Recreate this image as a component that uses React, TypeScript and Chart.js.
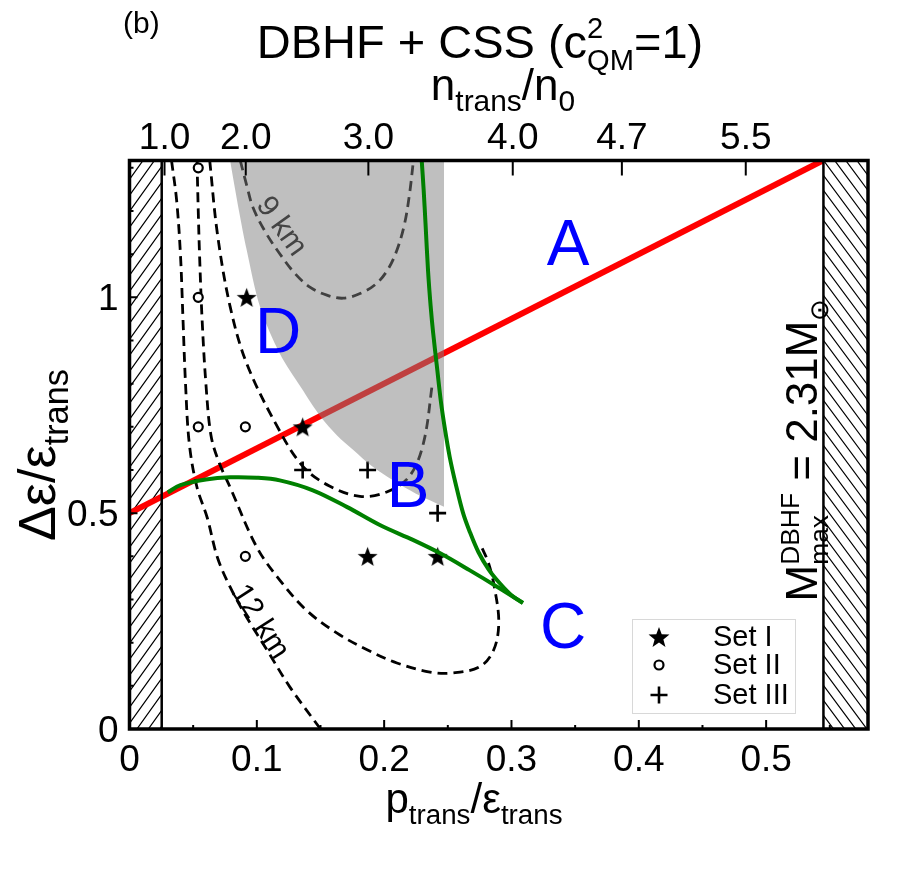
import { useEffect, useRef } from "react";
import { Chart, registerables } from "chart.js";

Chart.register(...registerables);

const FONT = '"Liberation Sans", Arial, Helvetica, sans-serif';

// ---- axes ----
const xMin = 0;
const xMax = 0.58;
const yMin = 0;
const yMax = 1.317;
const xMajorTicks = [0, 0.1, 0.2, 0.3, 0.4, 0.5];
const xMajorLabels = ["0", "0.1", "0.2", "0.3", "0.4", "0.5"];
const xMinorTicks = [0.05, 0.15, 0.25, 0.35, 0.45, 0.55];
const yMajorTicks = [0, 0.5, 1];
const yMajorLabels = ["0", "0.5", "1"];
const yMinorTicks = [0.1, 0.2, 0.3, 0.4, 0.6, 0.7, 0.8, 0.9, 1.1, 1.2, 1.3];
const topTickValues = [0.0275, 0.0913, 0.1876, 0.301, 0.3867, 0.484];
const topTickLabels = ["1.0", "2.0", "3.0", "4.0", "4.7", "5.5"];
const leftExcluded = [0, 0.0253];
const rightExcluded = [0.545, 0.58];

// ---- red line (Seidov criterion) ----
const redP = [0, 0.5445];
const redV = [0.5, 1.317];

// ---- green stability boundaries ----
const greenLowP = [0.03, 0.04, 0.06, 0.079, 0.1, 0.118, 0.144, 0.171, 0.197, 0.223, 0.244, 0.267, 0.289, 0.309];
const greenLowV = [0.548, 0.565, 0.578, 0.583, 0.582, 0.576, 0.553, 0.514, 0.472, 0.4375, 0.407, 0.368, 0.329, 0.292];
const greenUpP = [0.2295, 0.231, 0.2325, 0.2345, 0.2365, 0.2385, 0.2415, 0.2445, 0.248, 0.2515, 0.256, 0.262, 0.2675, 0.274, 0.282, 0.291, 0.3, 0.309];
const greenUpV = [1.317, 1.25, 1.17, 1.06, 0.98, 0.917, 0.838, 0.76, 0.69, 0.63, 0.57, 0.5, 0.455, 0.41, 0.37, 0.337, 0.31, 0.292];

// ---- grey region lower boundary ----
const greyP = [0.079, 0.086, 0.092, 0.1025, 0.118, 0.135, 0.15, 0.163, 0.176, 0.19, 0.207, 0.225, 0.247];
const greyV = [1.317, 1.2, 1.11, 0.978, 0.87, 0.79, 0.724, 0.68, 0.646, 0.61, 0.576, 0.545, 0.515];

// ---- radius contours (dashed) ----
const r9P = [0.087, 0.092, 0.097, 0.107, 0.118, 0.13, 0.142, 0.155, 0.168, 0.182, 0.194, 0.203, 0.21, 0.216, 0.22, 0.223];
const r9V = [1.317, 1.26, 1.208, 1.15, 1.101, 1.055, 1.023, 1.005, 0.998, 1.01, 1.032, 1.065, 1.109, 1.17, 1.241, 1.317];
const r10P = [0.063, 0.069, 0.079, 0.092, 0.116, 0.136, 0.157, 0.181, 0.202, 0.22, 0.231, 0.238];
const r10V = [1.317, 1.148, 0.979, 0.847, 0.701, 0.609, 0.563, 0.539, 0.549, 0.586, 0.664, 0.803];
const r11P = [0.053, 0.054, 0.055, 0.057, 0.06, 0.064, 0.07, 0.079, 0.1, 0.118, 0.139, 0.163, 0.187, 0.21, 0.236, 0.254, 0.275, 0.286, 0.29, 0.287, 0.282, 0.276];
const r11V = [1.317, 1.2, 1.1, 0.95, 0.8, 0.68, 0.62, 0.56, 0.421, 0.345, 0.275, 0.222, 0.183, 0.153, 0.132, 0.13, 0.144, 0.183, 0.245, 0.322, 0.384, 0.425];
const r12P = [0.033, 0.037, 0.04, 0.042, 0.044, 0.047, 0.053, 0.061, 0.069, 0.079, 0.092, 0.108, 0.126, 0.15];
const r12V = [1.317, 1.225, 1.1, 0.95, 0.8, 0.66, 0.56, 0.49, 0.398, 0.329, 0.259, 0.183, 0.097, 0.0];

// ---- parameter sets ----
const set1P = [0.092, 0.136, 0.187, 0.242];
const set1V = [1.0, 0.7, 0.4, 0.4];
const set2P = [0.054, 0.054, 0.054, 0.091, 0.091];
const set2V = [1.3, 1.0, 0.7, 0.7, 0.4];
const set3P = [0.136, 0.187, 0.242];
const set3V = [0.6, 0.6, 0.5];
const legendNames = ["Set I", "Set II", "Set III"];

// ---- region labels (data-space anchors: centre x, baseline y) ----
const regionNames = ["A", "B", "C", "D"];
const regionP = [0.3445, 0.2188, 0.3405, 0.1167];
const regionV = [1.074, 0.514, 0.1875, 0.87];

const zip = (p: number[], v: number[]) => p.map((x, i) => ({ x, y: v[i] }));

type Seg = { t?: string; sub?: string; sup?: string };

function segW(ctx: CanvasRenderingContext2D, s: Seg, size: number, k: number) {
  if (s.t !== undefined) {
    ctx.font = `${size}px ${FONT}`;
    return ctx.measureText(s.t).width;
  }
  ctx.font = `${size * k}px ${FONT}`;
  return Math.max(s.sub ? ctx.measureText(s.sub).width : 0, s.sup ? ctx.measureText(s.sup).width : 0);
}

function drawRich(
  ctx: CanvasRenderingContext2D,
  segs: Seg[],
  x: number,
  y: number,
  size: number,
  align: "left" | "center" | "right",
  color: string,
  k = 0.62
) {
  const widths = segs.map((s) => segW(ctx, s, size, k));
  const total = widths.reduce((a, b) => a + b, 0);
  let cx = align === "center" ? x - total / 2 : align === "right" ? x - total : x;
  ctx.fillStyle = color;
  ctx.textAlign = "left";
  ctx.textBaseline = "alphabetic";
  segs.forEach((s, i) => {
    if (s.t !== undefined) {
      ctx.font = `${size}px ${FONT}`;
      ctx.fillText(s.t, cx, y);
    } else {
      ctx.font = `${size * k}px ${FONT}`;
      if (s.sup) ctx.fillText(s.sup, cx, y - size * 0.42);
      if (s.sub) ctx.fillText(s.sub, cx, y + size * 0.25);
    }
    cx += widths[i];
  });
}

function starPath(ctx: CanvasRenderingContext2D, cx: number, cy: number, R: number, r: number) {
  ctx.beginPath();
  for (let i = 0; i < 10; i++) {
    const a = -Math.PI / 2 + (i * Math.PI) / 5;
    const rad = i % 2 === 0 ? R : r;
    const px = cx + rad * Math.cos(a);
    const py = cy + rad * Math.sin(a);
    if (i === 0) ctx.moveTo(px, py);
    else ctx.lineTo(px, py);
  }
  ctx.closePath();
}

function makeStar(R: number) {
  const c = document.createElement("canvas");
  const s = Math.ceil(2 * R + 2);
  c.width = s;
  c.height = s;
  const g = c.getContext("2d")!;
  g.fillStyle = "#000";
  starPath(g, s / 2, s / 2 + 1, R, R * 0.42);
  g.fill();
  return c;
}

function hatch(
  ctx: CanvasRenderingContext2D,
  x0: number,
  x1: number,
  y0: number,
  y1: number,
  dir: 1 | -1,
  spacing: number,
  slope: number
) {
  ctx.save();
  ctx.beginPath();
  ctx.rect(x0, y0, x1 - x0, y1 - y0);
  ctx.clip();
  ctx.strokeStyle = "#000";
  ctx.lineWidth = 1.2;
  const w = x1 - x0;
  ctx.beginPath();
  for (let c = y0 - slope * w - spacing; c < y1 + slope * w + spacing; c += spacing) {
    ctx.moveTo(x0, c);
    ctx.lineTo(x1, c - dir * slope * w);
  }
  ctx.stroke();
  ctx.restore();
}

const decor = {
  id: "decor",
  beforeDatasetsDraw(chart: any) {
    const { ctx, chartArea: a, scales } = chart;
    const xs = scales.x;
    const xl = xs.getPixelForValue(leftExcluded[1]);
    const xr = xs.getPixelForValue(rightExcluded[0]);
    hatch(ctx, a.left, xl, a.top, a.bottom, 1, 16, 1.4);
    hatch(ctx, xr, a.right, a.top, a.bottom, -1, 15, 1.35);
  },
  afterDatasetsDraw(chart: any) {
    const { ctx, chartArea: a, scales } = chart;
    const xs = scales.x;
    const ys = scales.y;
    ctx.save();
    // region labels
    ctx.fillStyle = "#0000ff";
    ctx.font = `64px ${FONT}`;
    ctx.textAlign = "center";
    ctx.textBaseline = "alphabetic";
    regionNames.forEach((n, i) => {
      ctx.fillText(n, xs.getPixelForValue(regionP[i]), ys.getPixelForValue(regionV[i]));
    });
    // contour labels
    ctx.font = `30px ${FONT}`;
    ctx.textBaseline = "middle";
    ctx.save();
    ctx.translate(xs.getPixelForValue(0.119), ys.getPixelForValue(1.164));
    ctx.rotate(0.95);
    ctx.fillStyle = "#444";
    ctx.fillText("9 km", 0, 0);
    ctx.restore();
    ctx.save();
    ctx.translate(xs.getPixelForValue(0.1025), ys.getPixelForValue(0.248));
    ctx.rotate(1.0);
    ctx.fillStyle = "#000";
    ctx.fillText("12 km", 0, 0);
    ctx.restore();

    // hatch boundary lines
    ctx.strokeStyle = "#000";
    ctx.lineWidth = 2.5;
    ctx.beginPath();
    const xl = xs.getPixelForValue(leftExcluded[1]);
    const xr = xs.getPixelForValue(rightExcluded[0]);
    ctx.moveTo(xl, a.top);
    ctx.lineTo(xl, a.bottom);
    ctx.moveTo(xr, a.top);
    ctx.lineTo(xr, a.bottom);
    ctx.stroke();

    // ticks
    ctx.lineWidth = 2;
    ctx.beginPath();
    xMajorTicks.forEach((v) => {
      const px = xs.getPixelForValue(v);
      ctx.moveTo(px, a.bottom);
      ctx.lineTo(px, a.bottom - 9);
    });
    xMinorTicks.forEach((v) => {
      const px = xs.getPixelForValue(v);
      ctx.moveTo(px, a.bottom);
      ctx.lineTo(px, a.bottom - 4);
    });
    yMajorTicks.forEach((v) => {
      const py = ys.getPixelForValue(v);
      ctx.moveTo(a.left, py);
      ctx.lineTo(a.left + 8, py);
    });
    yMinorTicks.forEach((v) => {
      const py = ys.getPixelForValue(v);
      ctx.moveTo(a.left, py);
      ctx.lineTo(a.left + 4, py);
    });
    topTickValues.forEach((v) => {
      const px = xs.getPixelForValue(v);
      ctx.moveTo(px, a.top);
      ctx.lineTo(px, a.top + 15);
    });
    ctx.stroke();

    // frame
    ctx.lineWidth = 3.5;
    ctx.strokeRect(a.left, a.top, a.right - a.left, a.bottom - a.top);

    // tick labels
    ctx.fillStyle = "#000";
    ctx.font = `37px ${FONT}`;
    ctx.textBaseline = "alphabetic";
    ctx.textAlign = "center";
    xMajorTicks.forEach((v, i) => {
      ctx.fillText(xMajorLabels[i], xs.getPixelForValue(v), a.bottom + 42);
    });
    topTickValues.forEach((v, i) => {
      ctx.fillText(topTickLabels[i], xs.getPixelForValue(v), a.top - 12);
    });
    ctx.textAlign = "right";
    yMajorTicks.forEach((v, i) => {
      ctx.fillText(yMajorLabels[i], a.left - 11, ys.getPixelForValue(v) + 13);
    });

    // titles
    ctx.textAlign = "left";
    ctx.font = `30px ${FONT}`;
    ctx.fillText("(b)", 123, 33);
    drawRich(ctx, [{ t: "DBHF + CSS (c" }, { sup: "2", sub: "QM" }, { t: "=1)" }], 480, 58, 47, "center", "#000");
    drawRich(ctx, [{ t: "n" }, { sub: "trans" }, { t: "/n" }, { sub: "0" }], 503, 100, 44, "center", "#000", 0.68);
    drawRich(ctx, [{ t: "p" }, { sub: "trans" }, { t: "/\u03b5" }, { sub: "trans" }], 474, 813, 42, "center", "#000", 0.66);

    ctx.save();
    ctx.translate(55, 455);
    ctx.rotate(-Math.PI / 2);
    drawRich(ctx, [{ t: "\u0394\u03b5/\u03b5" }, { sub: "trans" }], 0, 0, 52, "center", "#000", 0.66);
    ctx.restore();

    ctx.save();
    ctx.translate(817, 450);
    ctx.rotate(-Math.PI / 2);
    drawRich(ctx, [{ t: "M" }, { sup: "DBHF", sub: "max" }, { t: " = 2.31M" }, { sub: "\u2299" }], 0, 0, 44, "center", "#000", 0.6);
    ctx.restore();

    // legend
    const lx1 = a.right - 73;
    const ly1 = a.bottom - 16;
    const lx0 = lx1 - 163;
    const ly0 = ly1 - 94;
    ctx.fillStyle = "#fff";
    ctx.fillRect(lx0, ly0, lx1 - lx0, ly1 - ly0);
    ctx.strokeStyle = "#d8d8d8";
    ctx.lineWidth = 1;
    ctx.strokeRect(lx0 + 0.5, ly0 + 0.5, lx1 - lx0, ly1 - ly0);
    const mx = lx0 + 27;
    const rows = [ly0 + 18, ly0 + 46, ly0 + 76];
    ctx.fillStyle = "#000";
    starPath(ctx, mx, rows[0] + 1, 11, 4.6);
    ctx.fill();
    ctx.strokeStyle = "#000";
    ctx.lineWidth = 2.2;
    ctx.beginPath();
    ctx.arc(mx, rows[1], 4.5, 0, Math.PI * 2);
    ctx.stroke();
    ctx.lineWidth = 2.6;
    ctx.beginPath();
    ctx.moveTo(mx - 8.5, rows[2]);
    ctx.lineTo(mx + 8.5, rows[2]);
    ctx.moveTo(mx, rows[2] - 8.5);
    ctx.lineTo(mx, rows[2] + 8.5);
    ctx.stroke();
    ctx.font = `29px ${FONT}`;
    ctx.textAlign = "left";
    ctx.textBaseline = "middle";
    legendNames.forEach((n, i) => ctx.fillText(n, lx0 + 81, rows[i] + 1));
    ctx.restore();
  },
};

export default function App() {
  const ref = useRef<HTMLCanvasElement | null>(null);
  useEffect(() => {
    if (!ref.current) return;
    const star = makeStar(10.5);
    const dashed = (p: number[], v: number[]) => ({
      type: "line" as const,
      data: zip(p, v),
      showLine: true,
      borderColor: "#000",
      borderWidth: 2.8,
      borderDash: [10, 6],
      pointRadius: 0,
      tension: 0.35,
      fill: false,
      order: 4,
    });
    const chart = new Chart(ref.current, {
      type: "scatter",
      data: {
        datasets: [
          {
            type: "line",
            data: zip(greenLowP, greenLowV),
            showLine: true,
            borderColor: "#008000",
            borderWidth: 4,
            pointRadius: 0,
            tension: 0.35,
            fill: false,
            order: 1,
          } as any,
          {
            type: "line",
            data: zip(greenUpP, greenUpV),
            showLine: true,
            borderColor: "#008000",
            borderWidth: 4,
            pointRadius: 0,
            tension: 0.35,
            fill: false,
            order: 1,
          } as any,
          {
            type: "line",
            data: zip(greyP, greyV),
            showLine: true,
            borderWidth: 0,
            borderColor: "rgba(0,0,0,0)",
            backgroundColor: "rgba(128,128,128,0.5)",
            pointRadius: 0,
            tension: 0.3,
            fill: "end",
            order: 2,
          } as any,
          {
            data: zip(set1P, set1V),
            pointStyle: star,
            pointRadius: 10,
            order: 3,
          } as any,
          {
            data: zip(set2P, set2V),
            pointStyle: "circle",
            pointRadius: 4.5,
            borderWidth: 2.2,
            borderColor: "#000",
            backgroundColor: "#fff",
            order: 3,
          } as any,
          {
            data: zip(set3P, set3V),
            pointStyle: "cross",
            pointRadius: 8.5,
            borderWidth: 2.6,
            borderColor: "#000",
            order: 3,
          } as any,
          dashed(r9P, r9V) as any,
          dashed(r10P, r10V) as any,
          dashed(r11P, r11V) as any,
          dashed(r12P, r12V) as any,
          {
            type: "line",
            data: zip(redP, redV),
            showLine: true,
            borderColor: "#ff0000",
            borderWidth: 6,
            pointRadius: 0,
            fill: false,
            order: 5,
          } as any,
        ],
      },
      options: {
        animation: false,
        responsive: false,
        devicePixelRatio: 1,
        layout: { padding: { left: 129.5, right: 32, top: 160.5, bottom: 143 } },
        scales: {
          x: { type: "linear", min: xMin, max: xMax, display: false },
          y: { type: "linear", min: yMin, max: yMax, display: false },
        },
        plugins: {
          legend: { display: false },
          tooltip: { enabled: false },
          title: { display: false },
        },
      },
      plugins: [decor],
    });
    return () => chart.destroy();
  }, []);
  return (
    <div style={{ position: "fixed", left: 0, top: 0, width: 900, height: 872, background: "#fff" }}>
      <canvas ref={ref} width={900} height={872} />
    </div>
  );
}
